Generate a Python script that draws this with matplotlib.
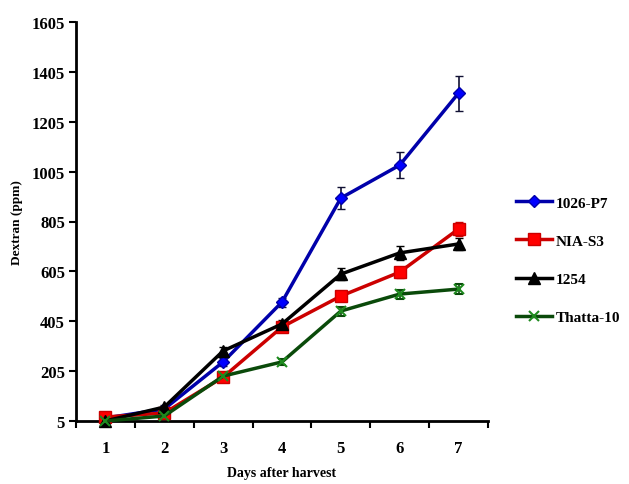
import matplotlib
matplotlib.use("Agg")
import matplotlib.pyplot as plt
from matplotlib.lines import Line2D
import numpy as np

days = [1, 2, 3, 4, 5, 6, 7]
series_names = ["1026-P7", "NIA-S3", "1254", "Thatta-10"]
p7 = [17, 53, 242, 482, 899, 1031, 1320]
p7_err = [8, 10, 15, 18, 44, 52, 70]
nia = [21, 37, 181, 382, 506, 602, 775]
nia_err = [8, 8, 12, 15, 18, 22, 30]
s1254 = [5, 61, 286, 394, 594, 679, 715]
s1254_err = [5, 8, 15, 18, 25, 28, 25]
thatta = [5, 25, 185, 242, 446, 514, 534]
thatta_err = [5, 6, 10, 12, 18, 18, 20]
yticks = [5, 205, 405, 605, 805, 1005, 1205, 1405, 1605]

plt.rcParams['font.family'] = ['Liberation Serif', 'DejaVu Serif']

fig = plt.figure(figsize=(6.29, 4.85), dpi=100)
ax = fig.add_axes([76/629, 1-422/485, (488-76)/629, (422-23)/485])

styles = [
    (p7, p7_err, "#0000AA", "#0000FF", "D", 6),
    (nia, nia_err, "#CC0000", "#FF0000", "s", 9),
    (s1254, s1254_err, "#000000", "#000000", "^", 8),
    (thatta, thatta_err, "#0A4A0A", "#1E8A1E", "x", 7),
]
handles = []
for name, (vals, err, lc, mc, mk, ms) in zip(series_names, styles):
    mec = lc if mk != "x" else mc
    mew = 1.5 if mk == "x" else 1
    ax.errorbar(days, vals, yerr=err, color=lc, lw=2.5, marker=mk, ms=ms,
                mfc=mc, mec=mec, mew=mew,
                ecolor="#111133" if lc == "#0000AA" else lc, elinewidth=1.2,
                capsize=3, capthick=1.2, clip_on=False, zorder=3)
    handles.append(Line2D([], [], color=lc, lw=2.5, marker=mk, ms=ms,
                          mfc=mc, mec=mec, mew=mew, label=name))

ax.set_xlim(0.5, 7.5)
ax.set_ylim(5, 1605)
ax.set_yticks(yticks)
ax.set_yticklabels([str(v) for v in yticks], fontweight='bold', fontsize=12)
ax.set_xticks(days)
ax.set_xticklabels([str(d) for d in days], fontweight='bold', fontsize=12)
ax.set_xticks(np.arange(0.5, 8, 1), minor=True)
ax.tick_params(axis='x', which='major', length=0, pad=14)
ax.tick_params(axis='x', which='minor', length=5, width=1.5, direction='out')
ax.tick_params(axis='y', length=5, width=1.5, direction='out', pad=3)
for s in ['top', 'right']:
    ax.spines[s].set_visible(False)
for s in ['left', 'bottom']:
    ax.spines[s].set_linewidth(2)

ax.set_ylabel("Dextran (ppm)", fontweight='bold', fontsize=9.5, labelpad=6)
ax.set_xlabel("Days after harvest", fontweight='bold', fontsize=10, labelpad=7)

fig.legend(handles=handles, loc='upper left', bbox_to_anchor=(516/629, 1-197/485),
           frameon=False, prop={'weight': 'bold', 'size': 11},
           borderpad=0, borderaxespad=0,
           handlelength=2.35, handletextpad=0.25, labelspacing=1.6)

fig.savefig("out.png", dpi=100)
